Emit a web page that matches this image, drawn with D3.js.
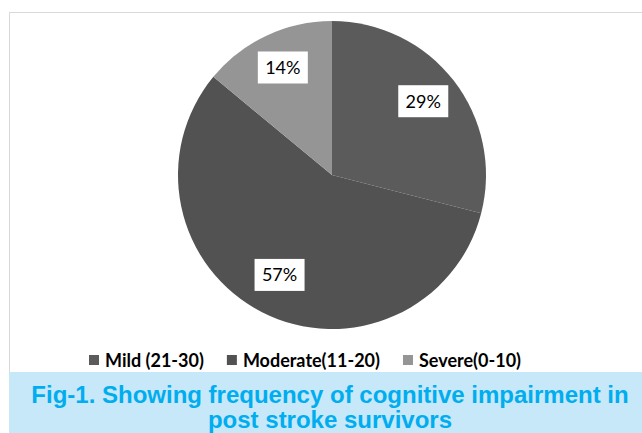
<!DOCTYPE html>
<html>
<head>
<meta charset="utf-8">
<script src="https://cdn.jsdelivr.net/npm/d3@7"></script>
<style>
  body { margin: 0; background: #fff; }
</style>
</head>
<body>
<div id="chart"></div>
<script>
(function() {
    var width = 642,
        height = 433;

    // data
    var categories = ["Mild (21-30)", "Moderate(11-20)", "Severe(0-10)"];
    var values = [29, 57, 14];
    var labels = ["29%", "57%", "14%"];
    var colors = ["#5b5b5b", "#525252", "#959595"];
    var captionLines = ["Fig-1. Showing frequency of cognitive impairment in", "post stroke survivors"];

    var svg = d3.select("#chart")
        .append("svg")
        .attr("width", width)
        .attr("height", height);

    // chart frame
    svg.append("rect")
        .attr("x", 9.5)
        .attr("y", 12.5)
        .attr("width", 640)
        .attr("height", 360)
        .attr("fill", "#fff")
        .attr("stroke", "#d9d9d9");

    var cx = 332, cy = 175, radius = 154;

    var pie = d3.pie().sort(null).value(function(d) { return d.value; });
    var arc = d3.arc().innerRadius(0).outerRadius(radius);
    var labelArc = d3.arc().innerRadius(radius * 0.75).outerRadius(radius * 0.75);

    var data = categories.map(function(c, i) {
        return { name: c, value: values[i], label: labels[i], color: colors[i] };
    });

    var g = svg.append("g")
        .attr("transform", "translate(" + cx + "," + cy + ")");

    var arcs = pie(data);

    g.selectAll(".slice")
        .data(arcs)
        .enter().append("path")
        .attr("class", "slice")
        .attr("d", arc)
        .attr("fill", function(d) { return d.data.color; });

    var lab = g.selectAll(".lab")
        .data(arcs)
        .enter().append("g")
        .attr("class", "lab")
        .attr("transform", function(d) {
            var c = labelArc.centroid(d);
            return "translate(" + c[0] + "," + (c[1] - 3) + ")";
        });

    lab.append("rect")
        .attr("x", -25)
        .attr("y", -16)
        .attr("width", 50)
        .attr("height", 32)
        .attr("fill", "#fff");

    lab.append("text")
        .attr("text-anchor", "middle")
        .attr("dy", "0.36em")
        .attr("font-family", "Lato, 'Open Sans', sans-serif")
        .attr("font-size", 18)
        .attr("fill", "#000")
        .text(function(d) { return d.data.label; });

    // legend
    var legend = svg.append("g").attr("transform", "translate(89,0)");
    var lx = 0;
    data.forEach(function(d) {
        var item = legend.append("g").attr("transform", "translate(" + lx + ",0)");
        item.append("rect")
            .attr("x", 0)
            .attr("y", 355)
            .attr("width", 10)
            .attr("height", 10)
            .attr("fill", d.color);
        var t = item.append("text")
            .attr("x", 16)
            .attr("y", 367)
            .attr("font-family", "Lato, 'Open Sans', sans-serif")
            .attr("font-weight", "bold")
            .attr("font-size", 18)
            .attr("fill", "#000")
            .text(d.name);
        lx += 16 + t.node().getComputedTextLength() + 23;
    });

    // caption box
    svg.append("rect")
        .attr("x", 9)
        .attr("y", 372)
        .attr("width", width - 9)
        .attr("height", height - 372)
        .attr("fill", "#c6e8f8");

    svg.selectAll(".caption")
        .data(captionLines)
        .enter().append("text")
        .attr("class", "caption")
        .attr("x", 330)
        .attr("y", function(d, i) { return 403 + i * 25; })
        .attr("text-anchor", "middle")
        .attr("font-family", "'Liberation Sans', Arial, sans-serif")
        .attr("font-weight", "bold")
        .attr("font-size", 24)
        .attr("fill", "#00adef")
        .text(function(d) { return d; });
})();
</script>
</body>
</html>
